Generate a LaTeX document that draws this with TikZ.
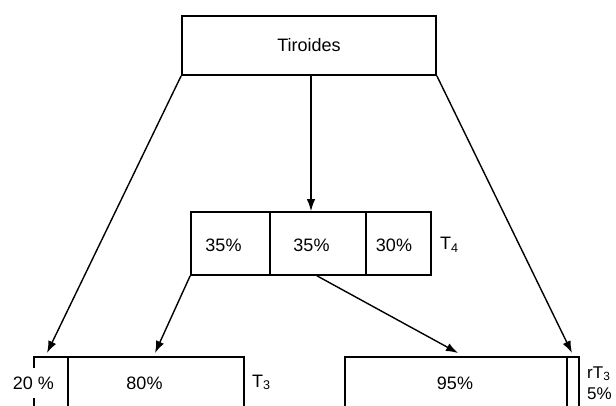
\documentclass[tikz,border=0pt]{standalone}
\usepackage{fontspec}
\setmainfont{Liberation Sans}
\usetikzlibrary{arrows.meta,calc}
\begin{document}
\begin{tikzpicture}[x=1pt,y=-1pt,
  box/.style={draw,line width=1.7pt,inner sep=0pt},
  txt/.style={font=\fontsize{18}{20}\selectfont,inner sep=0pt},
  small/.style={font=\fontsize{17}{18}\selectfont,inner sep=0pt},
  arr/.style={line width=1.4pt,-{Latex[length=12pt,width=8.5pt]}}]
\useasboundingbox (0,0) rectangle (616,406);
\clip (0,0) rectangle (616,406);

% gland
\node[box,txt,minimum width=254pt,minimum height=59pt] (tir) at (309,45.5) {Tiroides};

% T4 fractions
\node[box,minimum width=79pt,minimum height=63pt] (a) at (230.5,243.5) {};
\node[box,minimum width=96pt,minimum height=63pt] (b) at (318,243.5) {};
\node[box,minimum width=65pt,minimum height=63pt] (c) at (398.5,243.5) {};
\node[txt] (ta) at (223.5,245.5) {35\%};
\node[txt] (tb) at (311.5,245.5) {35\%};
\node[txt] (tc) at (394,245.5) {30\%};
\node[txt,anchor=base west] (t4) at (440,250) {T\textsubscript{4}};

% T3 fractions
\node[box,minimum width=34pt,minimum height=103pt] (d) at (51,408.5) {};
\node[box,minimum width=176pt,minimum height=103pt] (e) at (156,408.5) {};
\node[txt,fill=white,inner xsep=1pt,inner ysep=9pt] (td) at (33.5,383) {20 \%};
\node[txt] (te) at (144.5,383) {80\%};
\node[txt,anchor=base west] (t3) at (252,387) {T\textsubscript{3}};

% rT3 fractions
\node[box,minimum width=222pt,minimum height=103pt] (f) at (456,408.5) {};
\node[box,minimum width=12pt,minimum height=103pt] (g) at (573,408.5) {};
\node[txt] (tf) at (455,383) {95\%};
\node[small,anchor=base west] (rt3) at (587,378) {rT\textsubscript{3}};
\node[small,anchor=base west] (tg) at (587,399) {5\%};

% arrow ends
\coordinate (v) at ($(tir.south)+(2,0)$);
\coordinate (p1) at (47,353);
\coordinate (p2) at (572,353);
\coordinate (p3) at (155,353);
\coordinate (q4) at ($(b.south)+(-1,0)$);
\coordinate (p4) at (458,353);

\draw[arr] (v) -- (v |- b.north);
\draw[arr] (tir.south west) -- (p1);
\draw[arr] (tir.south east) -- (p2);
\draw[arr] (a.south west) -- (p3);
\draw[arr] (q4) -- (p4);
\end{tikzpicture}
\end{document}
